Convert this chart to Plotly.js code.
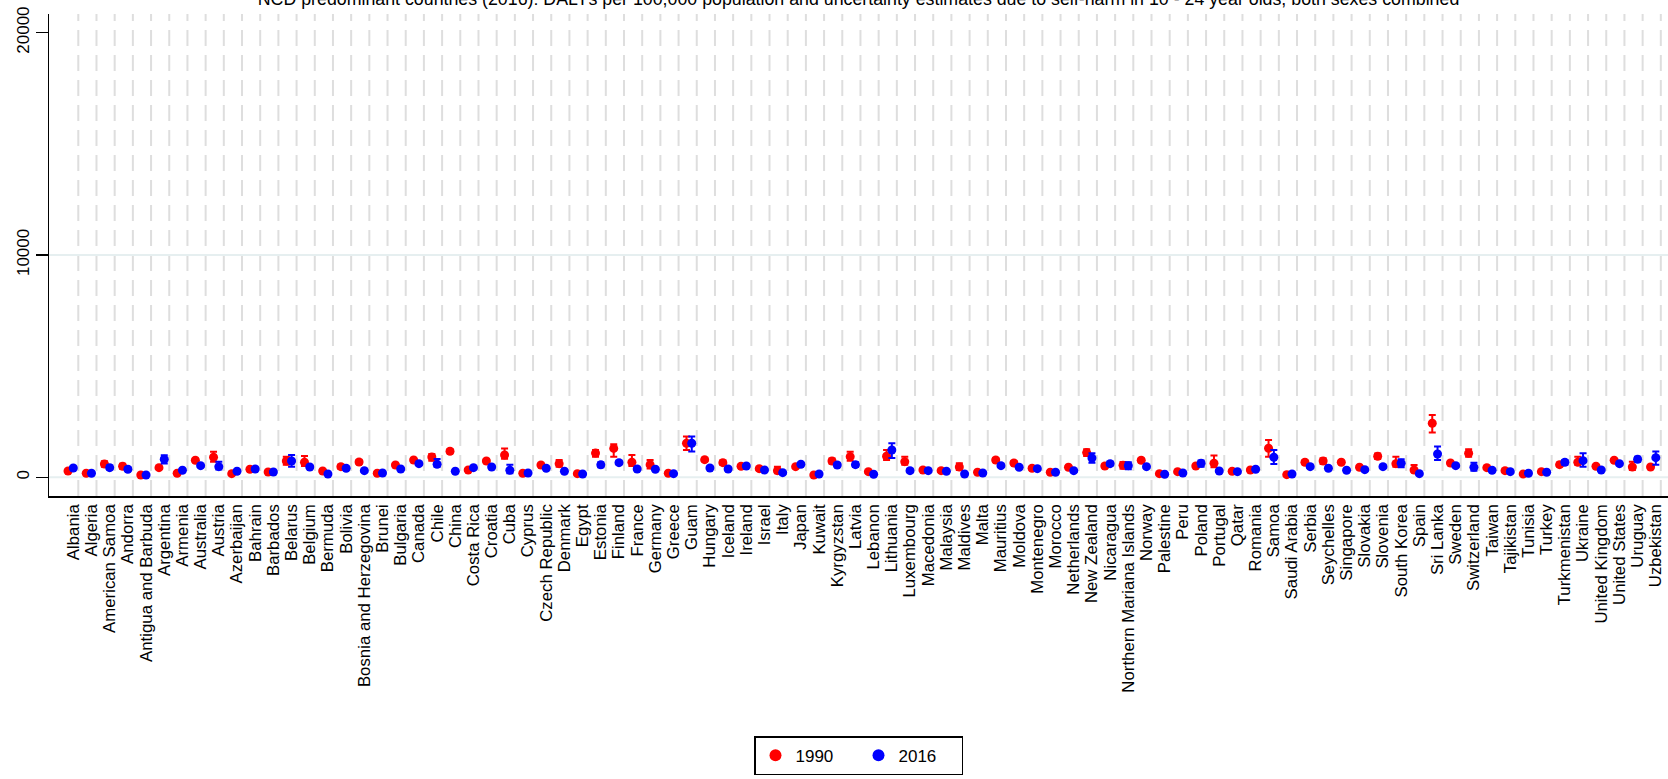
<!DOCTYPE html>
<html>
<head>
<meta charset="utf-8">
<script src="https://cdn.plot.ly/plotly-3.0.1.min.js"></script>
<style>html,body{margin:0;padding:0;background:#fff;}#chart{width:1668px;height:779px;}</style>
</head>
<body>
<div id="chart"></div>
<script>
const countries = ["Albania","Algeria","American Samoa","Andorra","Antigua and Barbuda","Argentina","Armenia","Australia","Austria","Azerbaijan","Bahrain","Barbados","Belarus","Belgium","Bermuda","Bolivia","Bosnia and Herzegovina","Brunei","Bulgaria","Canada","Chile","China","Costa Rica","Croatia","Cuba","Cyprus","Czech Republic","Denmark","Egypt","Estonia","Finland","France","Germany","Greece","Guam","Hungary","Iceland","Ireland","Israel","Italy","Japan","Kuwait","Kyrgyzstan","Latvia","Lebanon","Lithuania","Luxembourg","Macedonia","Malaysia","Maldives","Malta","Mauritius","Moldova","Montenegro","Morocco","Netherlands","New Zealand","Nicaragua","Northern Mariana Islands","Norway","Palestine","Peru","Poland","Portugal","Qatar","Romania","Samoa","Saudi Arabia","Serbia","Seychelles","Singapore","Slovakia","Slovenia","South Korea","Spain","Sri Lanka","Sweden","Switzerland","Taiwan","Tajikistan","Tunisia","Turkey","Turkmenistan","Ukraine","United Kingdom","United States","Uruguay","Uzbekistan"];

const val1990 = [284,180,600,495,105,435,180,765,900,165,360,240,735,675,285,480,690,180,555,780,915,1170,330,735,1005,180,555,615,165,1090,1300,675,570,180,1530,795,660,495,390,300,480,105,735,930,255,945,705,330,300,465,225,780,645,405,225,450,1110,510,540,765,165,255,510,630,270,330,1305,120,675,735,675,450,945,615,330,2430,645,1080,435,300,150,255,570,675,495,765,465,465];
const lo1990 = [230,150,480,380,80,390,150,690,700,140,300,200,560,510,230,390,600,140,490,720,750,1080,280,650,840,140,500,480,130,930,930,510,400,150,1230,720,560,430,340,180,440,80,620,750,200,780,560,280,250,330,180,690,560,340,180,390,960,430,390,680,130,210,450,450,220,280,930,90,590,600,600,390,820,480,250,2010,580,930,380,250,120,210,490,560,450,720,330,400];
const hi1990 = [340,215,720,610,130,480,215,840,1150,195,420,285,930,960,345,570,780,220,620,840,1050,1260,380,820,1290,225,610,780,200,1230,1490,1000,780,215,1830,870,760,560,440,480,520,130,850,1150,310,1230,930,380,350,630,270,870,730,470,270,510,1260,590,690,850,200,300,570,980,320,380,1680,150,760,860,750,510,1070,930,550,2800,710,1260,490,350,180,300,650,930,540,810,700,530];

const val2016 = [420,180,435,360,105,810,315,525,480,270,375,240,735,465,150,405,300,195,375,615,585,270,435,465,315,195,405,270,150,560,660,375,360,165,1530,420,375,510,330,210,585,150,555,570,135,1230,300,300,270,150,195,525,450,390,225,300,870,615,525,480,135,195,630,285,255,360,900,150,480,405,315,345,480,630,165,1050,525,450,315,255,180,225,675,750,330,615,810,885];
const lo2016 = [350,150,350,280,80,620,270,470,350,230,310,200,480,400,120,330,250,150,330,560,480,240,380,400,180,150,360,230,120,450,590,320,320,140,1160,370,310,450,290,180,540,120,470,460,110,870,230,250,220,110,150,460,390,330,180,260,660,530,360,420,105,160,480,240,210,310,600,120,420,340,270,300,420,450,130,780,470,300,270,210,140,190,570,480,300,580,700,560];
const hi2016 = [490,210,530,450,135,990,360,580,700,310,440,285,1000,530,185,480,350,240,420,670,820,300,490,530,560,240,450,310,185,680,730,430,400,195,1830,470,440,570,370,240,630,180,640,680,165,1530,370,350,320,190,240,590,510,450,270,340,1080,700,680,540,165,230,760,330,300,410,1230,180,540,470,360,390,540,810,200,1380,580,660,360,300,220,260,780,1080,360,650,920,1160];

const yTicks = [0, 10000, 20000];
const hLines = [0, 10000];
const seriesNames = ["1990", "2016"];

const idx = countries.map((c, i) => i);
const off1990 = -0.29, off2016 = 0, gridOff = 0.275;

function errTrace(name, vals, lo, hi, off, color) {
  return {
    type: 'scatter', mode: 'markers', name: name,
    x: idx.map(i => i + off), y: vals,
    marker: {color: color, size: 9},
    error_y: {type: 'data', symmetric: false,
      array: vals.map((v, i) => hi[i] - v),
      arrayminus: vals.map((v, i) => v - lo[i]),
      color: color, thickness: 2, width: 3.5},
    hoverinfo: 'x+y'
  };
}

const traces = [
  errTrace(seriesNames[0], val1990, lo1990, hi1990, off1990, '#ff0000'),
  errTrace(seriesNames[1], val2016, lo2016, hi2016, off2016, '#0000ff')
];

const shapes = [];
idx.forEach(i => shapes.push({type: 'line', xref: 'x', yref: 'paper', x0: i + gridOff, x1: i + gridOff, y0: 0, y1: 1,
  line: {color: '#dedede', width: 2, dash: '16px,9px'}, layer: 'below'}));
hLines.forEach(v => shapes.push({type: 'line', xref: 'paper', yref: 'y', x0: 0, x1: 1, y0: v, y1: v,
  line: {color: '#e6eff0', width: 2}, layer: 'below'}));

const font = {family: '"Liberation Sans", Arial, sans-serif', color: '#000'};

const layout = {
  width: 1668, height: 779,
  margin: {l: 49, r: 0, t: 14, b: 283},
  paper_bgcolor: '#fff', plot_bgcolor: '#fff',
  font: Object.assign({size: 17}, font),
  title: {text: 'NCD predominant countries (2016): DALYs per 100,000 population and uncertainty estimates due to self-harm in 10 - 24 year olds, both sexes combined',
    font: Object.assign({size: 17.8}, font), xref: 'paper', x: 0.5, xanchor: 'center', yref: 'container', y: 0.993, yanchor: 'bottom'},
  xaxis: {range: [-1.336, 87.67], tickmode: 'array', tickvals: idx, ticktext: countries, tickangle: -90,
    tickfont: Object.assign({size: 16.8}, font), showgrid: false, zeroline: false, showline: true, linecolor: '#000', linewidth: 1.5, ticks: '', fixedrange: true},
  yaxis: {range: [-841, 20839], tickmode: 'array', tickvals: yTicks, ticktext: yTicks.map(String), tickangle: -90,
    tickfont: Object.assign({size: 17}, font), showgrid: false, zeroline: false, showline: true, linecolor: '#000', linewidth: 1.5,
    ticks: 'outside', ticklen: 12, tickwidth: 1.5, tickcolor: '#000'},
  showlegend: true,
  legend: {orientation: 'h', x: 0.5, xanchor: 'center', y: -0.539, yanchor: 'middle', xref: 'paper', yref: 'paper',
    bordercolor: '#000', borderwidth: 1.5, font: Object.assign({size: 17}, font), itemsizing: 'constant', itemwidth: 30,
    entrywidth: 58, entrywidthmode: 'pixels'},
  shapes: shapes
};

Plotly.newPlot('chart', traces, layout, {displayModeBar: false, staticPlot: true});
</script>
</body>
</html>
